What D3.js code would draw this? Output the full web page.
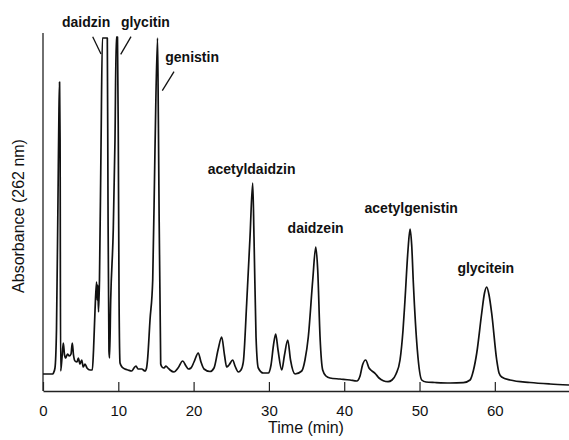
<!DOCTYPE html>
<meta charset="utf-8">
<title>Chromatogram</title>
<script src="https://d3js.org/d3.v7.min.js"></script>
<style>
  body { margin: 0; background: #fff; }
  text { font-family: "Liberation Sans", Arial, sans-serif; }
</style>
<body>
<div id="chart"></div>
<script>
// retention time (min) and absorbance (arbitrary units)
var time = [0, 1.29, 1.39, 1.59, 1.79, 1.99, 2.12, 2.20, 2.27, 2.34,
  2.52, 2.70, 2.86, 3.01, 3.25, 3.49, 3.72, 3.89, 4.05, 4.25, 4.52, 4.69, 4.91, 5.14, 5.35, 5.58, 5.84, 6.24, 6.55,
  6.71, 6.91, 7.11, 7.20, 7.28, 7.37, 7.50, 7.70, 7.89, 8.54, 8.63, 8.76, 8.84,
  8.99, 9.33, 9.56, 9.73, 9.89, 10.0, 10.10, 10.23, 10.49, 10.89, 11.29, 11.78, 12.08, 12.35, 12.62, 13.11, 13.55,
  13.75, 13.88, 14.21, 14.57, 14.87, 15.21, 15.32, 15.63, 15.80, 16.07, 16.33, 16.60, 16.87, 17.40, 17.93,
  18.55, 18.99, 19.30, 19.65, 20.05, 20.62, 20.98, 21.38, 22.18, 22.71, 23.24, 23.73, 24.10, 24.39, 24.70,
  25.19, 25.50, 25.94, 26.29, 26.60, 27.05, 27.49, 27.85, 28.02, 28.29, 28.59, 29.26, 29.92,
  30.28, 30.61, 30.90, 31.21, 31.70, 32.07, 32.50, 32.87, 33.47, 34.36, 34.79, 35.23, 35.82, 36.22, 36.48,
  36.79, 37.14, 37.58, 38.11, 39.44, 40.77, 41.66, 42.10, 42.43, 42.85, 43.29, 43.69, 44.09, 44.62, 45.19,
  45.82, 46.35, 46.88, 47.41, 47.81, 48.07, 48.47, 48.74, 48.96, 49.18, 49.71, 50.29, 50.86, 52.05, 54.05,
  55.82, 56.71, 57.17, 57.60, 58.26, 58.63, 58.92, 59.23, 59.58, 60.25, 60.56, 60.91, 62.02, 64.68, 67.33, 69.85];
var absorbance = [17, 17, 18, 23, 61, 191, 281, 309, 251, 20,
  33, 48, 36, 33, 37, 35, 37, 48, 36, 30, 29, 33, 27, 31, 24, 27, 23, 21, 21,
  41, 81, 109, 91, 106, 79, 111, 241, 353, 353, 191, 40, 33,
  91, 161, 251, 354, 354, 251, 91, 28, 24, 22, 21, 20, 23, 25, 22, 22, 20,
  23, 31, 71, 111, 241, 353, 271, 27, 24, 23, 25, 23, 21, 19, 23,
  30, 25, 22, 23, 29, 38, 29, 22, 19.5, 23, 41, 54, 36, 24, 26,
  31, 25, 19, 21, 29, 88, 154, 208, 154, 54, 23, 18, 18,
  26, 46, 57, 41, 21, 36, 51, 31, 17, 20, 31, 54, 111, 144, 121,
  54, 21, 15, 13, 12, 11, 10, 15, 26, 31, 23, 20, 17.7, 13, 10.3,
  9.3, 11, 17, 31, 61, 91, 141, 162, 146, 108, 41, 11, 9, 8.5, 8,
  8.3, 11, 21, 38, 78, 98, 104, 96, 78, 31, 18, 14, 11, 8.5, 7, 6];

var xTicks = [0, 10, 20, 30, 40, 50, 60];

// peak names with label anchor (time, absorbance)
var peakNames = ["daidzin", "glycitin", "genistin", "acetyldaidzin", "daidzein", "acetylgenistin", "glycitein"];
var labelTime = [5.73, 13.6, 19.8, 27.7, 36.2, 48.9, 58.8];
var labelAbs = [364.5, 364.5, 329, 217.5, 158, 178, 118];

// leader lines for the off-scale peaks: [t1, a1, t2, a2]
var leaders = [[6.60, 354.3, 7.70, 337], [11.69, 354.3, 10.32, 336.7], [17.40, 319.3, 15.84, 300.3]];

var width = 569, height = 440;
var margin = {top: 31, right: 0, bottom: 49, left: 43};

var svg = d3.select("#chart").append("svg")
    .attr("width", width)
    .attr("height", height);

var x = d3.scaleLinear()
    .domain([0, 69.85])
    .range([margin.left, width - margin.right]);

var y = d3.scaleLinear()
    .domain([0, 360])
    .range([height - margin.bottom, margin.top]);

var trace = time.map(function(t, i) { return [t, absorbance[i]]; });

// x axis with ticks pointing inward
var xAxis = d3.axisBottom(x)
    .tickValues(xTicks)
    .tickSize(-9)
    .tickPadding(14)
    .tickSizeOuter(0)
    .tickFormat(d3.format("d"));

var gx = svg.append("g")
    .attr("transform", "translate(0," + y(0) + ")")
    .call(xAxis);
gx.select(".domain").attr("stroke", "#222").attr("stroke-width", 1.6);
gx.selectAll(".tick line").attr("stroke", "#222").attr("stroke-width", 1.2);
gx.selectAll(".tick text")
    .attr("font-size", "15px")
    .attr("fill", "#111")
    .attr("font-family", "'Liberation Sans', Arial, sans-serif");

// y axis: plain line, no ticks
svg.append("line")
    .attr("x1", x(0)).attr("x2", x(0))
    .attr("y1", margin.top + 2).attr("y2", y(0))
    .attr("stroke", "#222")
    .attr("stroke-width", 1.3);

svg.append("text")
    .attr("x", 306)
    .attr("y", 433)
    .attr("text-anchor", "middle")
    .attr("font-size", "16px")
    .attr("fill", "#111")
    .text("Time (min)");

svg.append("text")
    .attr("transform", "translate(24,216) rotate(-90)")
    .attr("text-anchor", "middle")
    .attr("font-size", "16px")
    .attr("fill", "#111")
    .text("Absorbance (262 nm)");

var line = d3.line()
    .x(function(d) { return x(d[0]); })
    .y(function(d) { return y(d[1]); })
    .curve(d3.curveMonotoneX);

svg.append("path")
    .datum(trace)
    .attr("fill", "none")
    .attr("stroke", "#111")
    .attr("stroke-width", 1.7)
    .attr("stroke-linejoin", "round")
    .attr("d", line);

svg.append("g")
  .selectAll("line")
  .data(leaders)
  .join("line")
    .attr("x1", function(d) { return x(d[0]); })
    .attr("y1", function(d) { return y(d[1]); })
    .attr("x2", function(d) { return x(d[2]); })
    .attr("y2", function(d) { return y(d[3]); })
    .attr("stroke", "#111")
    .attr("stroke-width", 1.3);

svg.append("g")
  .selectAll("text")
  .data(peakNames)
  .join("text")
    .attr("x", function(d, i) { return x(labelTime[i]); })
    .attr("y", function(d, i) { return y(labelAbs[i]); })
    .attr("text-anchor", "middle")
    .attr("font-size", "14px")
    .attr("font-weight", "bold")
    .attr("fill", "#111")
    .text(function(d) { return d; });
</script>
</body>
